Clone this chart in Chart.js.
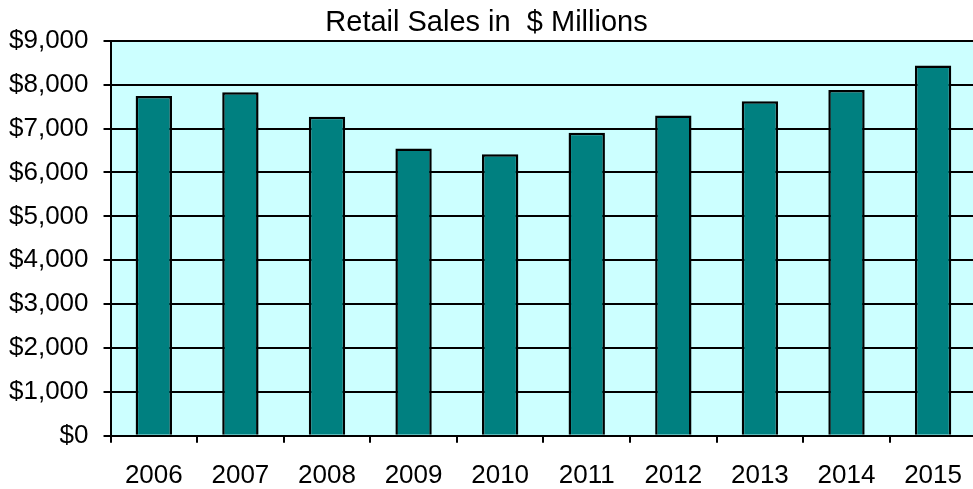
<!DOCTYPE html>
<html>
<head>
<meta charset="utf-8">
<script src="https://cdn.jsdelivr.net/npm/chart.js@4"></script>
<style>
  html, body { margin: 0; padding: 0; background: #fff; overflow: hidden; }
  /* the canvas runs a little past the right and bottom edges, the last category is clipped */
  #wrap { width: 985px; height: 508px; margin-left: -6px; }
</style>
</head>
<body>
<div id="wrap"><canvas id="salesChart"></canvas></div>
<script>
const years = ['2006', '2007', '2008', '2009', '2010', '2011', '2012', '2013', '2014', '2015'];
const salesMillions = [7740, 7830, 7270, 6545, 6415, 6905, 7300, 7625, 7880, 8440];
const yMin = 0;
const yMax = 9000;
const yStep = 1000;

// fill the plot area before the grid goes on
const plotBackground = {
    id: 'plotBackground',
    beforeDraw(chart) {
        const { ctx, chartArea } = chart;
        ctx.save();
        ctx.fillStyle = '#CCFFFF';
        ctx.fillRect(chartArea.left, chartArea.top, chartArea.right - chartArea.left, chartArea.bottom - chartArea.top);
        ctx.restore();
    }
};

Chart.defaults.font.family = '"Liberation Sans", Arial, sans-serif';
Chart.defaults.color = '#000';

const ctx = document.getElementById('salesChart');

new Chart(ctx, {
    type: 'bar',
    data: {
        labels: years,
        datasets: [{
            label: 'Retail Sales',
            data: salesMillions,
            backgroundColor: '#008080',
            borderColor: '#000',
            borderWidth: 2.5,
            categoryPercentage: 1,
            barPercentage: 0.42
        }]
    },
    options: {
        responsive: true,
        maintainAspectRatio: false,
        animation: false,
        layout: {
            padding: 0
        },
        plugins: {
            legend: { display: false },
            tooltip: { enabled: false },
            title: {
                display: true,
                text: 'Retail Sales in  $ Millions',
                color: '#000',
                font: { size: 29, weight: 'normal' },
                padding: { top: 6, bottom: 0 }
            }
        },
        scales: {
            x: {
                offset: true,
                border: { color: '#000', width: 2 },
                grid: {
                    offset: true,
                    drawOnChartArea: false,
                    color: '#000',
                    lineWidth: 2,
                    tickLength: 7
                },
                ticks: {
                    color: '#000',
                    font: { size: 26 },
                    padding: 17,
                    maxRotation: 0
                }
            },
            y: {
                min: yMin,
                max: yMax,
                border: { color: '#000', width: 2 },
                grid: {
                    color: '#000',
                    lineWidth: 2,
                    tickLength: 7
                },
                ticks: {
                    stepSize: yStep,
                    color: '#000',
                    font: { size: 26 },
                    padding: 15,
                    callback: (v) => '$' + v.toLocaleString('en-US')
                }
            }
        }
    },
    plugins: [plotBackground]
});
</script>
</body>
</html>
